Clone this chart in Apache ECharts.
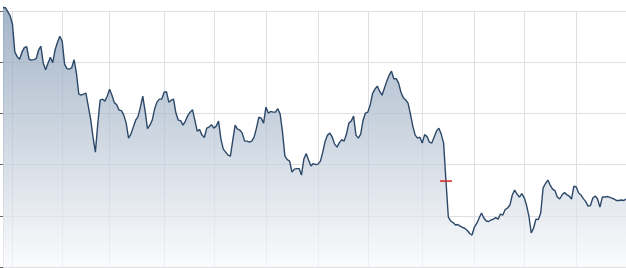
<!DOCTYPE html>
<html>
<head>
<meta charset="utf-8">
<script src="https://cdn.jsdelivr.net/npm/echarts@6/dist/echarts.min.js"></script>
<style>
html,body{margin:0;padding:0;background:#fff;}
#chart{width:626px;height:268px;}
</style>
</head>
<body>
<div id="chart"></div>
<script>
// Trading-day range shown on the x axis (weekdays)
const startDate = '2010-12-28';
const endDate = '2011-12-30';

// Daily closing values, one per trading day
const closes = [
50.34,50.32,49.93,49.54,48.71,45.98,45.54,45.29,45.98,46.42,
46.51,45.29,45.20,45.25,45.34,46.17,46.56,44.90,44.27,44.90,
45.49,44.95,46.22,46.95,47.54,47.05,44.81,44.37,44.32,44.46,
45.25,43.93,41.88,41.78,41.88,41.98,40.71,39.44,37.68,36.22,
38.95,41.29,41.39,41.20,41.68,42.37,41.78,41.05,40.85,40.32,
40.27,39.83,39.05,37.59,37.98,38.66,39.34,39.68,40.61,41.68,
40.22,38.51,38.85,39.34,40.42,41.10,41.39,41.39,42.07,42.12,
41.10,41.29,41.39,40.03,39.34,39.29,38.85,39.25,39.78,40.12,
40.37,39.34,38.27,38.42,37.88,37.65,38.56,38.66,38.90,38.56,
38.76,39.25,37.49,36.51,36.22,35.93,35.83,37.39,38.85,38.46,
38.37,38.07,37.29,37.29,37.20,37.29,37.68,38.56,39.64,39.54,
39.05,40.61,40.03,40.19,40.12,40.12,40.46,39.93,38.17,35.83,
35.49,35.34,34.27,34.56,34.61,34.61,33.98,35.54,36.07,35.44,
34.86,35.10,35.00,35.05,35.34,36.22,37.29,37.88,38.07,37.68,
37.00,36.71,37.15,37.44,37.29,37.98,39.05,39.25,39.73,37.88,
37.59,37.98,39.34,40.03,40.12,40.81,41.93,42.37,42.66,42.17,
41.78,42.46,43.15,43.73,44.12,43.39,43.39,42.95,42.07,41.54,
41.31,41.00,39.93,38.76,37.88,37.59,37.68,37.10,37.93,37.73,
37.20,37.10,37.68,38.27,38.56,37.98,37.10,33.39,29.88,29.49,
29.34,29.10,29.15,29.00,28.87,28.76,28.56,28.27,28.12,28.90,
29.25,29.78,30.27,29.78,29.49,29.44,29.59,29.68,29.83,29.68,
30.17,30.07,30.61,30.76,31.05,32.03,32.51,32.12,31.83,32.17,
31.78,31.05,29.98,28.32,28.81,29.68,29.64,30.27,32.71,33.15,
33.49,33.00,32.61,32.46,31.83,31.64,32.03,32.27,32.07,31.93,
31.64,32.90,32.81,32.22,32.03,31.68,31.39,30.95,31.00,31.73,
31.93,31.64,30.85,31.83,31.83,31.88,31.83,31.73,31.64,31.49,
31.49,31.54,31.49,31.64
];

// Red marker (reference price)
const markerDate = '2011-09-15';
const markerValue = 33.39;

// Y axis scale
const yMin = 25, yMax = 50, yStep = 5;

function weekdays(a, b) {
  const out = [];
  const d = new Date(a + 'T00:00:00Z');
  const e = new Date(b + 'T00:00:00Z');
  while (d <= e) {
    const w = d.getUTCDay();
    if (w !== 0 && w !== 6) out.push(d.toISOString().slice(0, 10));
    d.setUTCDate(d.getUTCDate() + 1);
  }
  return out;
}
const dates = weekdays(startDate, endDate);

const chart = echarts.init(document.getElementById('chart'), null, {renderer: 'canvas'});
chart.setOption({
  animation: false,
  backgroundColor: '#ffffff',
  grid: {left: 3, right: 0, top: 11, bottom: 1, containLabel: false},
  xAxis: {
    type: 'category',
    data: dates,
    boundaryGap: false,
    axisLine: {show: false},
    axisTick: {show: false},
    axisLabel: {show: false},
    splitLine: {
      show: true,
      interval: function (i, v) {
        return i > 0 && v.slice(5, 7) !== dates[i - 1].slice(5, 7);
      },
      lineStyle: {color: '#dedee4', width: 1}
    }
  },
  yAxis: {
    type: 'value',
    min: yMin,
    max: yMax,
    interval: yStep,
    axisLine: {show: true, lineStyle: {color: '#d0d0d8'}},
    axisTick: {show: true, length: 3, lineStyle: {color: '#666'}},
    axisLabel: {show: false},
    splitLine: {show: true, lineStyle: {color: '#dedee4', width: 1}}
  },
  series: [
    {
      type: 'line',
      data: closes,
      clip: false,
      showSymbol: false,
      symbol: 'none',
      lineStyle: {color: '#2c4868', width: 1.4},
      areaStyle: {
        color: new echarts.graphic.LinearGradient(0, 0, 0, 1, [
          {offset: 0, color: '#7d95b1'},
          {offset: 0.45, color: '#b3c1d1'},
          {offset: 1, color: '#f8f9fb'}
        ])
      },
      z: 2
    },
    {
      type: 'scatter',
      data: [[markerDate, markerValue]],
      symbol: 'rect',
      symbolSize: [12, 2],
      itemStyle: {color: '#d42a2a'},
      z: 5
    }
  ]
});
</script>
</body>
</html>
